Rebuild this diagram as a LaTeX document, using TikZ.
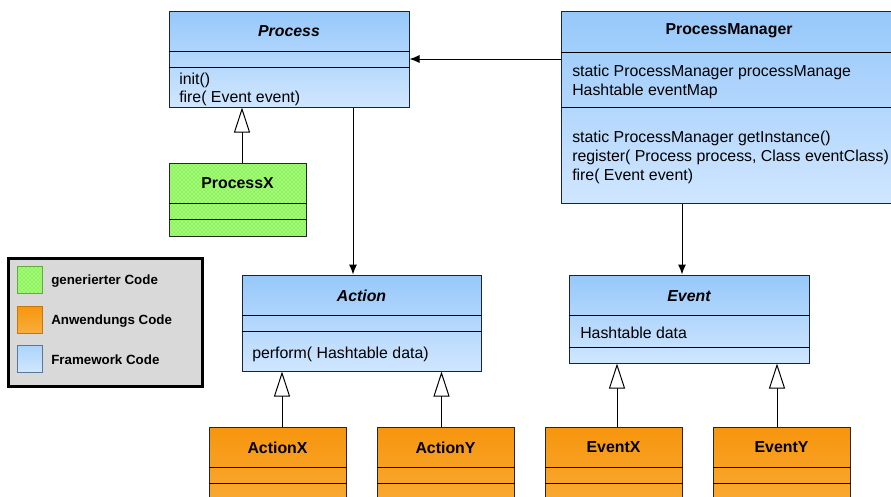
\documentclass[tikz,border=0pt]{standalone}
\usepackage{fontspec}
\setmainfont{Liberation Sans}
\usetikzlibrary{arrows.meta,calc,shadows,patterns}
\definecolor{bluetop}{RGB}{150,200,250}
\definecolor{bluebot}{RGB}{208,230,255}
\definecolor{orgtop}{RGB}{247,149,13}
\definecolor{orgbot}{RGB}{249,174,60}
\definecolor{greenfill}{RGB}{140,245,90}
\definecolor{boxline}{RGB}{25,35,60}
\definecolor{legendgray}{RGB}{217,217,217}
\tikzset{
  cls/.style={draw=boxline, line width=0.75pt, inner sep=0pt,
    drop shadow={shadow xshift=1pt, shadow yshift=-1pt, opacity=1, fill=black!75}},
  fw/.style={cls, top color=bluetop, bottom color=bluebot},
  app/.style={cls, draw=black!85, top color=orgtop, bottom color=orgbot},
  gen/.style={cls, draw=black!85, preaction={fill=greenfill}, pattern=crosshatch dots, pattern color=white},
  sep/.style={draw=black, line width=0.75pt},
  txt/.style={font=\fontsize{11.9pt}{14pt}\selectfont, inner sep=0pt, anchor=base west},
  ttl/.style={font=\fontsize{11.9pt}{14pt}\selectfont\bfseries, inner sep=0pt},
  ittl/.style={ttl, font=\fontsize{11.9pt}{14pt}\selectfont\bfseries\itshape},
  leg/.style={font=\fontsize{10pt}{12pt}\selectfont\bfseries, inner sep=0pt, anchor=west},
  assoc/.style={draw=black, line width=0.75pt, -{Latex[length=7.5pt, width=6pt]}},
  inherit/.style={draw=black, line width=0.75pt, -{Triangle[open, length=18.75pt, width=12pt, fill=white]}},
}
\begin{document}
\begin{tikzpicture}[x=0.75pt, y=-0.75pt]
\useasboundingbox (0,0) rectangle (891,496);
\clip (0,0) rectangle (891,496);

% Process
\node[fw, minimum width=180pt, minimum height=72pt] (process) at (289,59) {};
\draw[sep] (process.west |- 0,51) -- (process.east |- 0,51);
\draw[sep] (process.west |- 0,67) -- (process.east |- 0,67);
\node[ittl] (processT) at (289,31) {Process};
\node[txt] (processM1) at (179,84.5) {init()};
\node[txt] (processM2) at (179,102) {fire( Event event)};

% ProcessManager (extends past the right edge)
\node[fw, minimum width=276pt, minimum height=144pt] (pm) at (745,107) {};
\draw[sep] (pm.west |- 0,52) -- (pm.east |- 0,52);
\draw[sep] (pm.west |- 0,107) -- (pm.east |- 0,107);
\node[ttl] (pmT) at (729,31) {ProcessManager};
\node[txt] (pmA1) at (572,76) {static ProcessManager processManage};
\node[txt] (pmA2) at (572,95) {Hashtable eventMap};
\node[txt] (pmM1) at (572,142) {static ProcessManager getInstance()};
\node[txt] (pmM2) at (572,161) {register( Process process, Class eventClass)};
\node[txt] (pmM3) at (572,180) {fire( Event event)};

% ProcessX
\node[gen, minimum width=102.75pt, minimum height=54.75pt] (processx) at (237.5,199.5) {};
\draw[sep] (processx.west |- 0,203) -- (processx.east |- 0,203);
\draw[sep] (processx.west |- 0,219) -- (processx.east |- 0,219);
\node[ttl] (processxT) at (237.5,183.5) {ProcessX};

% Action
\node[fw, minimum width=179.25pt, minimum height=72pt] (action) at (361.5,323) {};
\draw[sep] (action.west |- 0,315) -- (action.east |- 0,315);
\draw[sep] (action.west |- 0,331) -- (action.east |- 0,331);
\node[ittl] (actionT) at (361.5,296) {Action};
\node[txt] (actionM1) at (252,358) {perform( Hashtable data)};

% Event
\node[fw, minimum width=180pt, minimum height=66pt] (event) at (689,319) {};
\draw[sep] (event.west |- 0,315) -- (event.east |- 0,315);
\draw[sep] (event.west |- 0,347) -- (event.east |- 0,347);
\node[ittl] (eventT) at (689,296) {Event};
\node[txt] (eventA1) at (580,338) {Hashtable data};

% Application classes
\foreach \n/\cx/\lab in {actionx/277.5/ActionX, actiony/445.5/ActionY, eventx/613.5/EventX, eventy/781.5/EventY}{
  \node[app, minimum width=102.75pt, minimum height=69.75pt] (\n) at (\cx,473.5) {};
  \draw[sep] (\n.west |- 0,467) -- (\n.east |- 0,467);
  \draw[sep] (\n.west |- 0,483) -- (\n.east |- 0,483);
  \node[ttl] (\n T) at (\cx,447.5) {\lab};
}

% Legend
\node[draw=black, line width=2.25pt, fill=legendgray, minimum width=145.5pt, minimum height=96pt, inner sep=0pt] (legend) at (105,322) {};
\node[gen, draw=greenfill!70!black, line width=0.5pt, drop shadow={opacity=0}, minimum width=18.75pt, minimum height=20.25pt] (swgen) at (29.5,279.5) {};
\node[app, draw=orgtop!80!black, line width=0.5pt, minimum width=18.75pt, minimum height=20.25pt] (swapp) at (29.5,319.5) {};
\node[fw, top color=bluetop!80!white, draw=bluetop!60!black, line width=0.5pt, minimum width=18.75pt, minimum height=20.25pt] (swfw) at (29.5,358.5) {};
\node[leg] (legGen) at (51,281) {generierter Code};
\node[leg] (legApp) at (51,321) {Anwendungs Code};
\node[leg] (legFw) at (51,360) {Framework Code};

% Connectors
\draw[assoc] (pm.west |- process.east) -- (process.east);
\path ($(process.south)+(64,0)$) coordinate (p1);
\draw[assoc] (p1) -- (p1 |- action.north);
\path ($(event.north)+(-7,0)$) coordinate (e1);
\draw[assoc] (e1 |- pm.south) -- (e1);
\path ($(processx.north)+(4.5,0)$) coordinate (px1);
\draw[inherit] (px1) -- (px1 |- process.south);
\path ($(actionx.north)+(4.5,0)$) coordinate (ax1);
\draw[inherit] (ax1) -- (ax1 |- action.south);
\path ($(actiony.north)+(-4,0)$) coordinate (ay1);
\draw[inherit] (ay1) -- (ay1 |- action.south);
\path ($(eventx.north)+(3.5,0)$) coordinate (ex1);
\draw[inherit] (ex1) -- (ex1 |- event.south);
\path ($(eventy.north)+(-4.5,0)$) coordinate (ey1);
\draw[inherit] (ey1) -- (ey1 |- event.south);
\end{tikzpicture}
\end{document}
